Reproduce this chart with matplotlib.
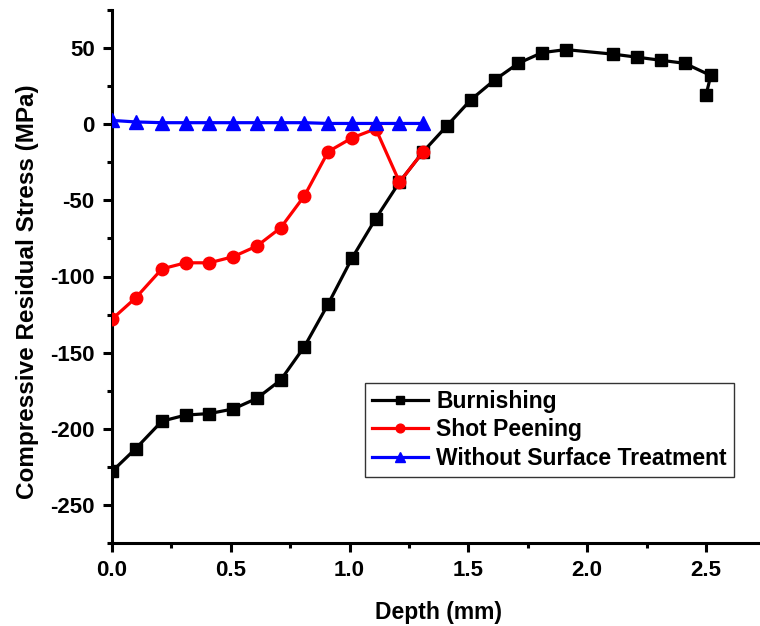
import matplotlib

matplotlib.use("Agg")

import matplotlib.pyplot as plt
from matplotlib.ticker import MultipleLocator

plt.rcParams["font.family"] = ["Liberation Sans", "DejaVu Sans"]
plt.rcParams["font.weight"] = "bold"
plt.rcParams["axes.unicode_minus"] = False

# ---------------------------------------------------------------------------
# Data
# ---------------------------------------------------------------------------
burn_depth = [0.0, 0.10, 0.21, 0.31, 0.41, 0.51, 0.61, 0.71, 0.81, 0.91,
              1.01, 1.11, 1.21, 1.31, 1.41, 1.51, 1.61, 1.71, 1.81, 1.91,
              2.11, 2.21, 2.31, 2.41, 2.52, 2.50]
burn_stress = [-228, -213, -195, -191, -190, -187, -180, -168, -146, -118,
               -88, -62, -38, -18, -1, 16, 29, 40, 47, 49,
               46, 44, 42, 40, 32, 19]

shot_depth = [0.0, 0.10, 0.21, 0.31, 0.41, 0.51, 0.61, 0.71, 0.81, 0.91,
              1.01, 1.11, 1.21, 1.31]
shot_stress = [-128, -114, -95, -91, -91, -87, -80, -68, -47, -18,
               -9, -3, -38, -18]

none_depth = [0.0, 0.10, 0.21, 0.31, 0.41, 0.51, 0.61, 0.71, 0.81, 0.91,
              1.01, 1.11, 1.21, 1.31]
none_stress = [2.5, 1.5, 1, 1, 1, 1, 1, 1, 1, 0.5, 0.5, 0.5, 0.5, 0.5]

# ---------------------------------------------------------------------------
# Figure
# ---------------------------------------------------------------------------
W, H = 760, 626
fig = plt.figure(figsize=(W / 100, H / 100), dpi=100)
ax = fig.add_axes([112 / W, (H - 543) / H, 653.4 / W, 533 / H])

ax.plot(burn_depth, burn_stress, color="black", marker="s", ms=8, lw=2.3,
        label="Burnishing", zorder=3)
ax.plot(shot_depth, shot_stress, color="red", marker="o", ms=9, lw=2.3,
        label="Shot Peening", zorder=4)
ax.plot(none_depth, none_stress, color="blue", marker="^", ms=10, lw=2.3,
        label="Without Surface Treatment", zorder=5)

ax.set_xlim(0, 2.75)
ax.set_ylim(-275, 75)
ax.xaxis.set_major_locator(MultipleLocator(0.5))
ax.xaxis.set_minor_locator(MultipleLocator(0.25))
ax.yaxis.set_major_locator(MultipleLocator(50))
ax.yaxis.set_minor_locator(MultipleLocator(25))
ax.set_yticks([-250, -200, -150, -100, -50, 0, 50])

for side in ("top", "right"):
    ax.spines[side].set_visible(False)
for side in ("left", "bottom"):
    ax.spines[side].set_linewidth(2.2)

ax.tick_params(which="major", length=6.5, width=2.2, labelsize=16, pad=6)
ax.tick_params(which="minor", length=3.5, width=2.2)
for lab in ax.get_xticklabels() + ax.get_yticklabels():
    lab.set_fontweight("bold")

ax.set_xlabel("Depth (mm)", fontsize=16.5, fontweight="bold", labelpad=14)
ax.set_ylabel("Compressive Residual Stress (MPa)", fontsize=17.5,
              fontweight="bold", labelpad=8)
ax.yaxis.label.set_y(0.472)

leg = ax.legend(loc="upper left", bbox_to_anchor=(365 / W, 1 - 383 / H),
                bbox_transform=fig.transFigure, borderaxespad=0,
                prop={"weight": "bold", "size": 16.5},
                frameon=True, fancybox=False, edgecolor="black",
                handlelength=2.45, handletextpad=0.35, labelspacing=0.24,
                borderpad=0.3, markerscale=0.7)
leg.get_frame().set_linewidth(1.0)

fig.savefig("out.png", dpi=100)
